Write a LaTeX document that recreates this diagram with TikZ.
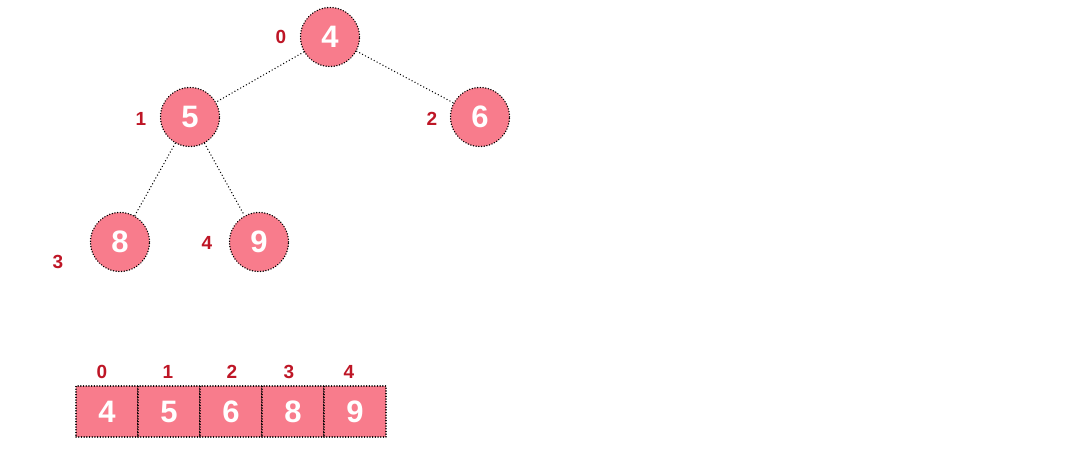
\documentclass[tikz,border=0pt]{standalone}
\usepackage{fontspec}
\setmainfont{Liberation Sans}
\definecolor{heapfill}{RGB}{248,124,140}
\definecolor{idxred}{RGB}{190,22,38}
\begin{document}
\begin{tikzpicture}[x=1pt,y=-1pt,
  heapnode/.style={circle,fill=heapfill,draw=black,dash pattern=on 0.1pt off 2.6pt,line cap=round,line width=1.5pt,minimum size=59pt,inner sep=0pt,text=white,font=\fontsize{31}{31}\selectfont\bfseries},
  cellbox/.style={rectangle,fill=heapfill,draw=black,dash pattern=on 0.1pt off 2.6pt,line cap=round,line width=1.5pt,minimum width=62pt,minimum height=51pt,inner sep=0pt,text=white,font=\fontsize{31}{31}\selectfont\bfseries},
  idx/.style={text=idxred,font=\fontsize{19}{19}\selectfont\bfseries,inner sep=0pt},
  edge/.style={draw=black,dash pattern=on 0.1pt off 3.2pt,line cap=round,line width=1.4pt}]
\useasboundingbox (0,0) rectangle (1073,455);
\node[heapnode] (n0) at (330,37) {4};
\node[heapnode] (n1) at (190,117) {5};
\node[heapnode] (n2) at (480,117) {6};
\node[heapnode] (n3) at (120,242) {8};
\node[heapnode] (n4) at (259,242) {9};
\draw[edge] (n0) -- (n1);
\draw[edge] (n0) -- (n2);
\draw[edge] (n1) -- (n3);
\draw[edge] (n1) -- (n4);
\node[idx] (l0) at (281,37) {0};
\node[idx] (l1) at (141,119) {1};
\node[idx] (l2) at (432,119) {2};
\node[idx] (l3) at (58,262) {3};
\node[idx] (l4) at (207,243) {4};
\node[cellbox] (c0) at (107,411.5) {4};
\node[cellbox] (c1) at (169,411.5) {5};
\node[cellbox] (c2) at (231,411.5) {6};
\node[cellbox] (c3) at (293,411.5) {8};
\node[cellbox] (c4) at (355,411.5) {9};
\node[idx] (a0) at (102,372) {0};
\node[idx] (a1) at (168,372) {1};
\node[idx] (a2) at (232,372) {2};
\node[idx] (a3) at (289,372) {3};
\node[idx] (a4) at (349,372) {4};
\end{tikzpicture}
\end{document}
